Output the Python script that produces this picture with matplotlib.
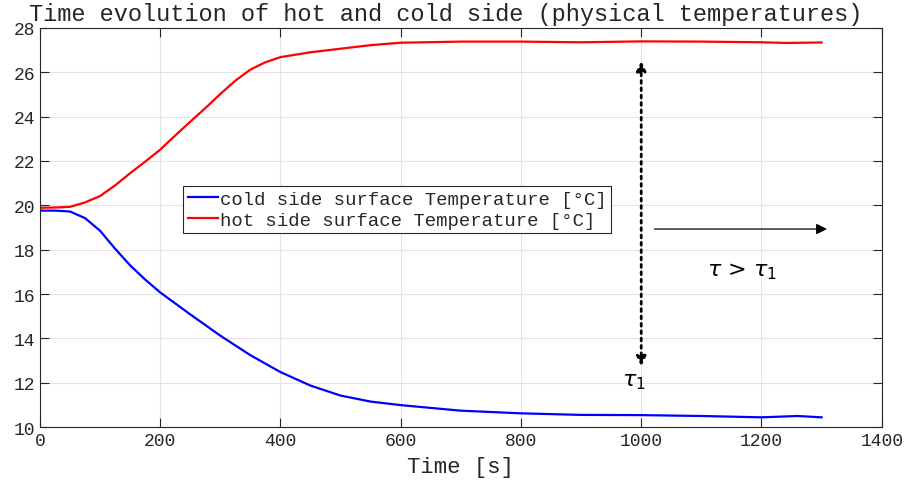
import numpy as np
import matplotlib
matplotlib.use("Agg")
import matplotlib.pyplot as plt

# --- data ---
hot_time = [0, 25, 50, 75, 100, 125, 150, 175, 200, 225, 250, 275, 300, 325,
            350, 375, 400, 450, 500, 550, 600, 700, 800, 900, 1000, 1100,
            1200, 1240, 1300]
hot_temp = [19.89, 19.9, 19.93, 20.13, 20.42, 20.9, 21.45, 21.97, 22.51, 23.15,
            23.77, 24.38, 25.02, 25.62, 26.12, 26.45, 26.68, 26.9, 27.06, 27.22,
            27.33, 27.38, 27.38, 27.35, 27.39, 27.38, 27.35, 27.32, 27.34]

cold_time = [0, 25, 50, 75, 100, 125, 150, 175, 200, 250, 300, 350, 400, 450,
             500, 550, 600, 700, 800, 900, 1000, 1100, 1200, 1260, 1300]
cold_temp = [19.76, 19.76, 19.72, 19.42, 18.85, 18.04, 17.29, 16.65, 16.07,
             15.08, 14.12, 13.24, 12.48, 11.87, 11.42, 11.15, 10.99, 10.74,
             10.62, 10.55, 10.54, 10.5, 10.44, 10.5, 10.44]

tau1_x = 1000
tau1_span = (12.75, 26.5)
later_arrow = (1022, 1309, 18.93)

MONO = "Liberation Mono"
INK = "#262626"

plt.rcParams["mathtext.fontset"] = "custom"
plt.rcParams["mathtext.it"] = "DejaVu Sans:italic"
plt.rcParams["mathtext.rm"] = "DejaVu Sans"

fig = plt.figure(figsize=(9.09, 4.81), dpi=100)
ax = fig.add_axes([0.044, 0.110, 0.926, 0.830])

ax.plot(cold_time, cold_temp, color="blue", linewidth=1.6,
        label="cold side surface Temperature [°C]")
ax.plot(hot_time, hot_temp, color="red", linewidth=1.6,
        label="hot side surface Temperature [°C]")

# tau_1 marker (dotted double arrow) and the "later" arrow
ax.annotate("", xy=(tau1_x, tau1_span[1]), xytext=(tau1_x, tau1_span[0]),
            arrowprops=dict(arrowstyle="<|-|>,head_width=0.2", linestyle=":",
                            linewidth=2, color="black", mutation_scale=14,
                            shrinkA=0, shrinkB=0))
ax.annotate("", xy=(later_arrow[1], later_arrow[2]), xytext=(later_arrow[0], later_arrow[2]),
            arrowprops=dict(arrowstyle="-|>,head_width=0.2", linewidth=0.9,
                            color="black", mutation_scale=16,
                            shrinkA=0, shrinkB=0))
ax.text(1167, 17.05, r"$\mathit{\tau}$ > $\mathit{\tau}_{1}$", fontsize=16,
        ha="center", va="center")
ax.text(988, 12.07, r"$\mathit{\tau}_{1}$", fontsize=16, ha="center", va="center")

ax.set_xlim(0, 1400)
ax.set_ylim(10, 28)
ax.set_xticks(np.arange(0, 1401, 200))
ax.set_yticks(np.arange(10, 29, 2))
ax.grid(True, color="#e3e3e3", linewidth=0.8)
ax.set_axisbelow(True)
ax.tick_params(direction="in", length=6.5, top=True, right=True,
               labelsize=13, labelcolor=INK, color=INK)
for lbl in ax.get_xticklabels() + ax.get_yticklabels():
    lbl.set_fontfamily(MONO)
for sp in ax.spines.values():
    sp.set_color(INK)
    sp.set_linewidth(0.8)

ax.set_xlabel("Time [s]", fontfamily=MONO, fontsize=16, color=INK, labelpad=5)
ax.set_title("Time evolution of hot and cold side (physical temperatures)",
             fontfamily=MONO, fontsize=17, color=INK, pad=6, x=0.482)

leg = ax.legend(loc="upper left", bbox_to_anchor=(0.17, 0.604), borderaxespad=0,
                prop={"family": MONO, "size": 13.6}, handlelength=1.6,
                handletextpad=0.1, borderpad=0.24, labelspacing=0.2,
                fancybox=False, framealpha=1)
leg.get_frame().set_edgecolor(INK)
leg.get_frame().set_linewidth(0.8)
for t in leg.get_texts():
    t.set_color(INK)

fig.savefig("out.png", dpi=100)
